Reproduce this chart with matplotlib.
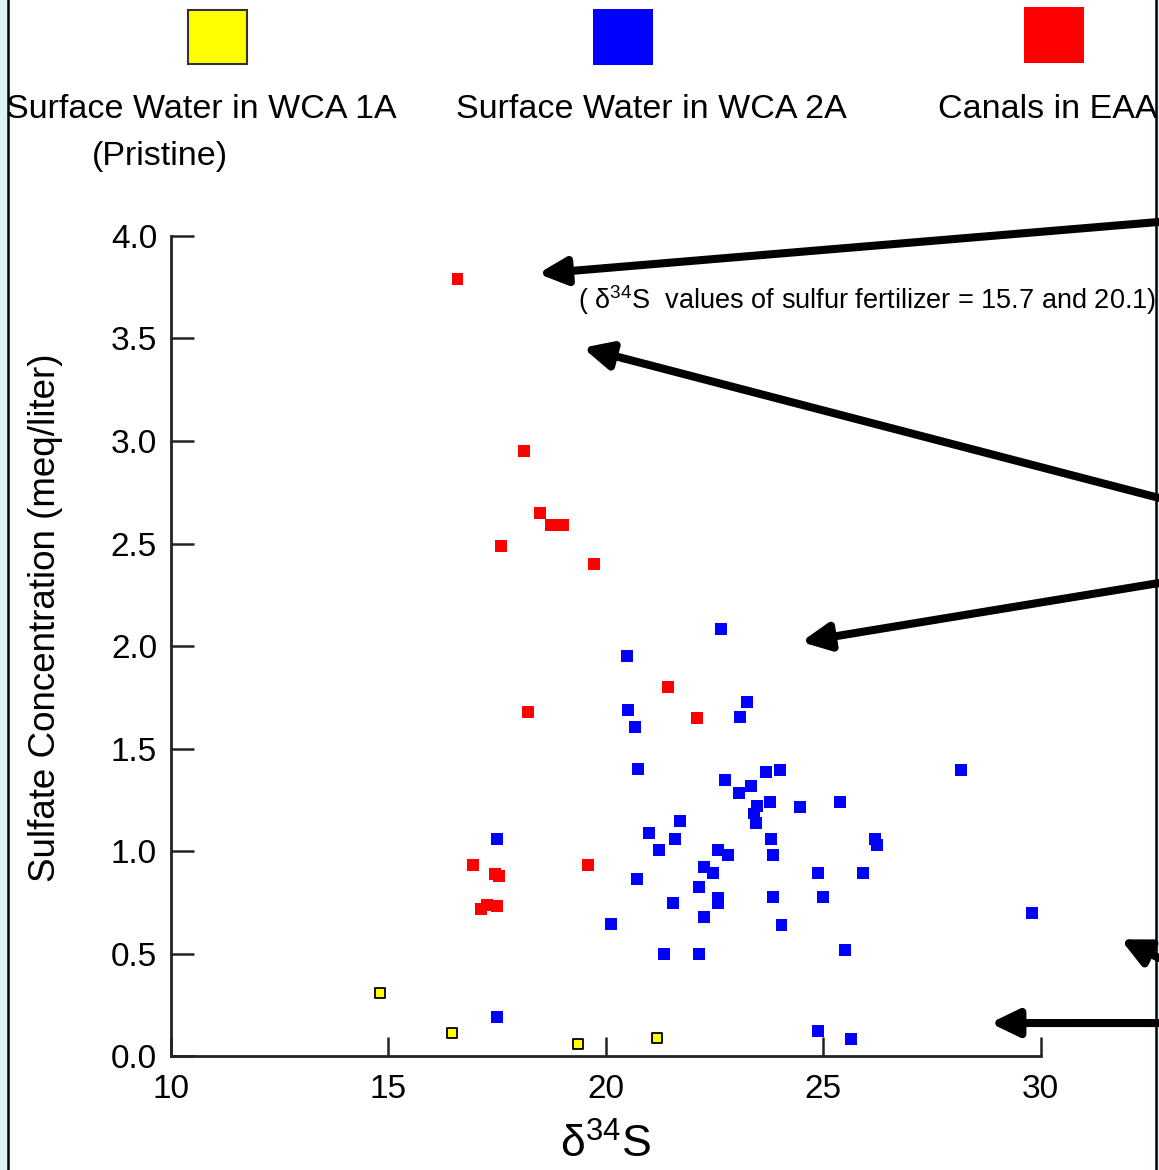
import matplotlib
matplotlib.use("Agg")
import matplotlib.pyplot as plt
from matplotlib import font_manager
from matplotlib.patches import Rectangle
from matplotlib.lines import Line2D

# data
yellow_x = [14.80, 16.46, 19.37, 21.17]
yellow_y = [0.307, 0.110, 0.057, 0.089]

blue_x = [22.65, 20.49, 20.52, 20.67, 23.25, 23.09, 20.75, 28.17, 22.74, 23.69,
          24.00, 23.33, 23.06, 23.77, 23.48, 23.41, 23.45, 24.47, 25.39, 21.70,
          20.99, 21.59, 21.22, 23.80, 26.19, 26.23, 22.58, 22.82, 23.84, 20.71,
          22.26, 22.46, 24.88, 25.91, 22.14, 21.55, 22.58, 22.58, 23.84, 24.99,
          20.11, 22.26, 24.04, 29.80, 21.34, 22.14, 25.51, 24.88, 25.63, 17.50,
          17.50]
blue_y = [2.084, 1.950, 1.686, 1.607, 1.725, 1.653, 1.400, 1.395, 1.348, 1.387,
          1.395, 1.319, 1.285, 1.239, 1.218, 1.183, 1.139, 1.215, 1.239, 1.145,
          1.090, 1.059, 1.004, 1.059, 1.059, 1.028, 1.004, 0.980, 0.980, 0.864,
          0.920, 0.893, 0.893, 0.893, 0.825, 0.746, 0.771, 0.747, 0.778, 0.778,
          0.645, 0.676, 0.637, 0.698, 0.496, 0.496, 0.518, 0.120, 0.081, 1.059,
          0.190]

red_x = [16.59, 18.11, 18.48, 18.74, 19.01, 17.58, 19.72, 21.43, 22.09, 18.21,
         16.94, 19.60, 17.45, 17.55, 17.13, 17.27, 17.49]
red_y = [3.79, 2.95, 2.65, 2.59, 2.59, 2.49, 2.40, 1.80, 1.65, 1.68,
         0.93, 0.93, 0.89, 0.88, 0.715, 0.735, 0.73]

legend_labels = ["Surface Water in WCA 1A\n(Pristine)", "Surface Water in WCA 2A", "Canals in EAA"]
note = "( $\\mathregular{\\delta^{34}}$S  values of sulfur fertilizer = 15.7 and 20.1)"

# arrow tips in data units, tails on the right edge (figure fraction)
arrow_tips = [(18.44, 3.816), (19.47, 3.455), (24.49, 2.02), (31.84, 0.569), (28.84, 0.161)]
arrow_tails = [0.8103, 0.5744, 0.5017, 0.1812, 0.1256]

available = {f.name for f in font_manager.fontManager.ttflist}
narrow = "Liberation Sans Narrow" if "Liberation Sans Narrow" in available else "Liberation Sans"

plt.rcParams["font.family"] = ["Liberation Sans", "DejaVu Sans"]
plt.rcParams["mathtext.fontset"] = "custom"
plt.rcParams["mathtext.rm"] = "Liberation Sans"

fig = plt.figure(figsize=(11.59, 11.70), dpi=100)
fig.patch.set_facecolor("#d9f4f0")

# white panel with black side rules
fig.add_artist(Rectangle((8 / 1159, 0), 1148 / 1159, 1, transform=fig.transFigure,
                         facecolor="white", edgecolor="none", zorder=0))
for xx in (7.5 / 1159, 1156 / 1159):
    fig.add_artist(Line2D([xx, xx], [0, 1], transform=fig.transFigure, color="black", lw=1.8, zorder=5))

ax = fig.add_axes([0.1475, 0.0974, 0.7504, 0.7009])
ax.set_facecolor("none")

ax.scatter(yellow_x, yellow_y, marker="s", s=58, facecolor="#ffff00", edgecolor="black", linewidths=1.3, zorder=3)
ax.scatter(blue_x, blue_y, marker="s", s=74, facecolor="#0000ff", edgecolor="none", zorder=3)
ax.scatter(red_x, red_y, marker="s", s=74, facecolor="#ff0000", edgecolor="none", zorder=3)

ax.set_xlim(10, 30)
ax.set_ylim(0, 4.0)
ax.set_xticks([10, 15, 20, 25, 30])
ax.set_yticks([0, 0.5, 1.0, 1.5, 2.0, 2.5, 3.0, 3.5, 4.0])
ax.set_yticklabels(["0.0", "0.5", "1.0", "1.5", "2.0", "2.5", "3.0", "3.5", "4.0"])
for side in ("top", "right"):
    ax.spines[side].set_visible(False)
for side in ("left", "bottom"):
    ax.spines[side].set_linewidth(2.0)
    ax.spines[side].set_color("#222222")
ax.tick_params(axis="y", direction="in", length=16.5, width=1.8, color="#222222",
               labelsize=24, pad=10)
ax.tick_params(axis="x", direction="in", length=13.5, width=1.8, color="#222222",
               labelsize=24, pad=13)

ax.set_ylabel("Sulfate Concentration (meq/liter)", fontsize=26.5)
ax.yaxis.set_label_coords(-0.124, 0.535)
ax.set_xlabel("$\\mathregular{\\delta^{34}S}$", fontsize=32, labelpad=13)

# legend swatches and labels
fig.add_artist(Rectangle((0.1622, 0.9453), 0.0509, 0.0462, transform=fig.transFigure,
                         facecolor="#ffff00", edgecolor="#333333", lw=1.5))
fig.add_artist(Rectangle((0.5116, 0.9444), 0.0518, 0.0479, transform=fig.transFigure,
                         facecolor="#0000ff", edgecolor="none"))
fig.add_artist(Rectangle((0.8835, 0.9462), 0.0518, 0.0479, transform=fig.transFigure,
                         facecolor="#ff0000", edgecolor="none"))
fig.text(0.1735, 0.9065, legend_labels[0].split("\n")[0], ha="center", va="center", fontsize=24.5)
fig.text(0.138, 0.8665, legend_labels[0].split("\n")[1], ha="center", va="center", fontsize=24.5)
fig.text(0.5617, 0.9065, legend_labels[1], ha="center", va="center", fontsize=24.5)
fig.text(0.8093, 0.9065, legend_labels[2], ha="left", va="center", fontsize=24.5)

fig.text(0.4987, 0.7436, note, ha="left", va="center", fontsize=19.5, family=[narrow, "DejaVu Sans"])

for (tx, ty), tail in zip(arrow_tips, arrow_tails):
    ax.annotate("", xy=(tx, ty), xycoords="data", xytext=(1.0, tail), textcoords="figure fraction",
                arrowprops=dict(arrowstyle="-|>,head_length=1.65,head_width=0.8", lw=5.8,
                                color="black", shrinkA=0, shrinkB=0),
                annotation_clip=False, zorder=4)

fig.savefig("out.png", dpi=100, facecolor=fig.get_facecolor())
